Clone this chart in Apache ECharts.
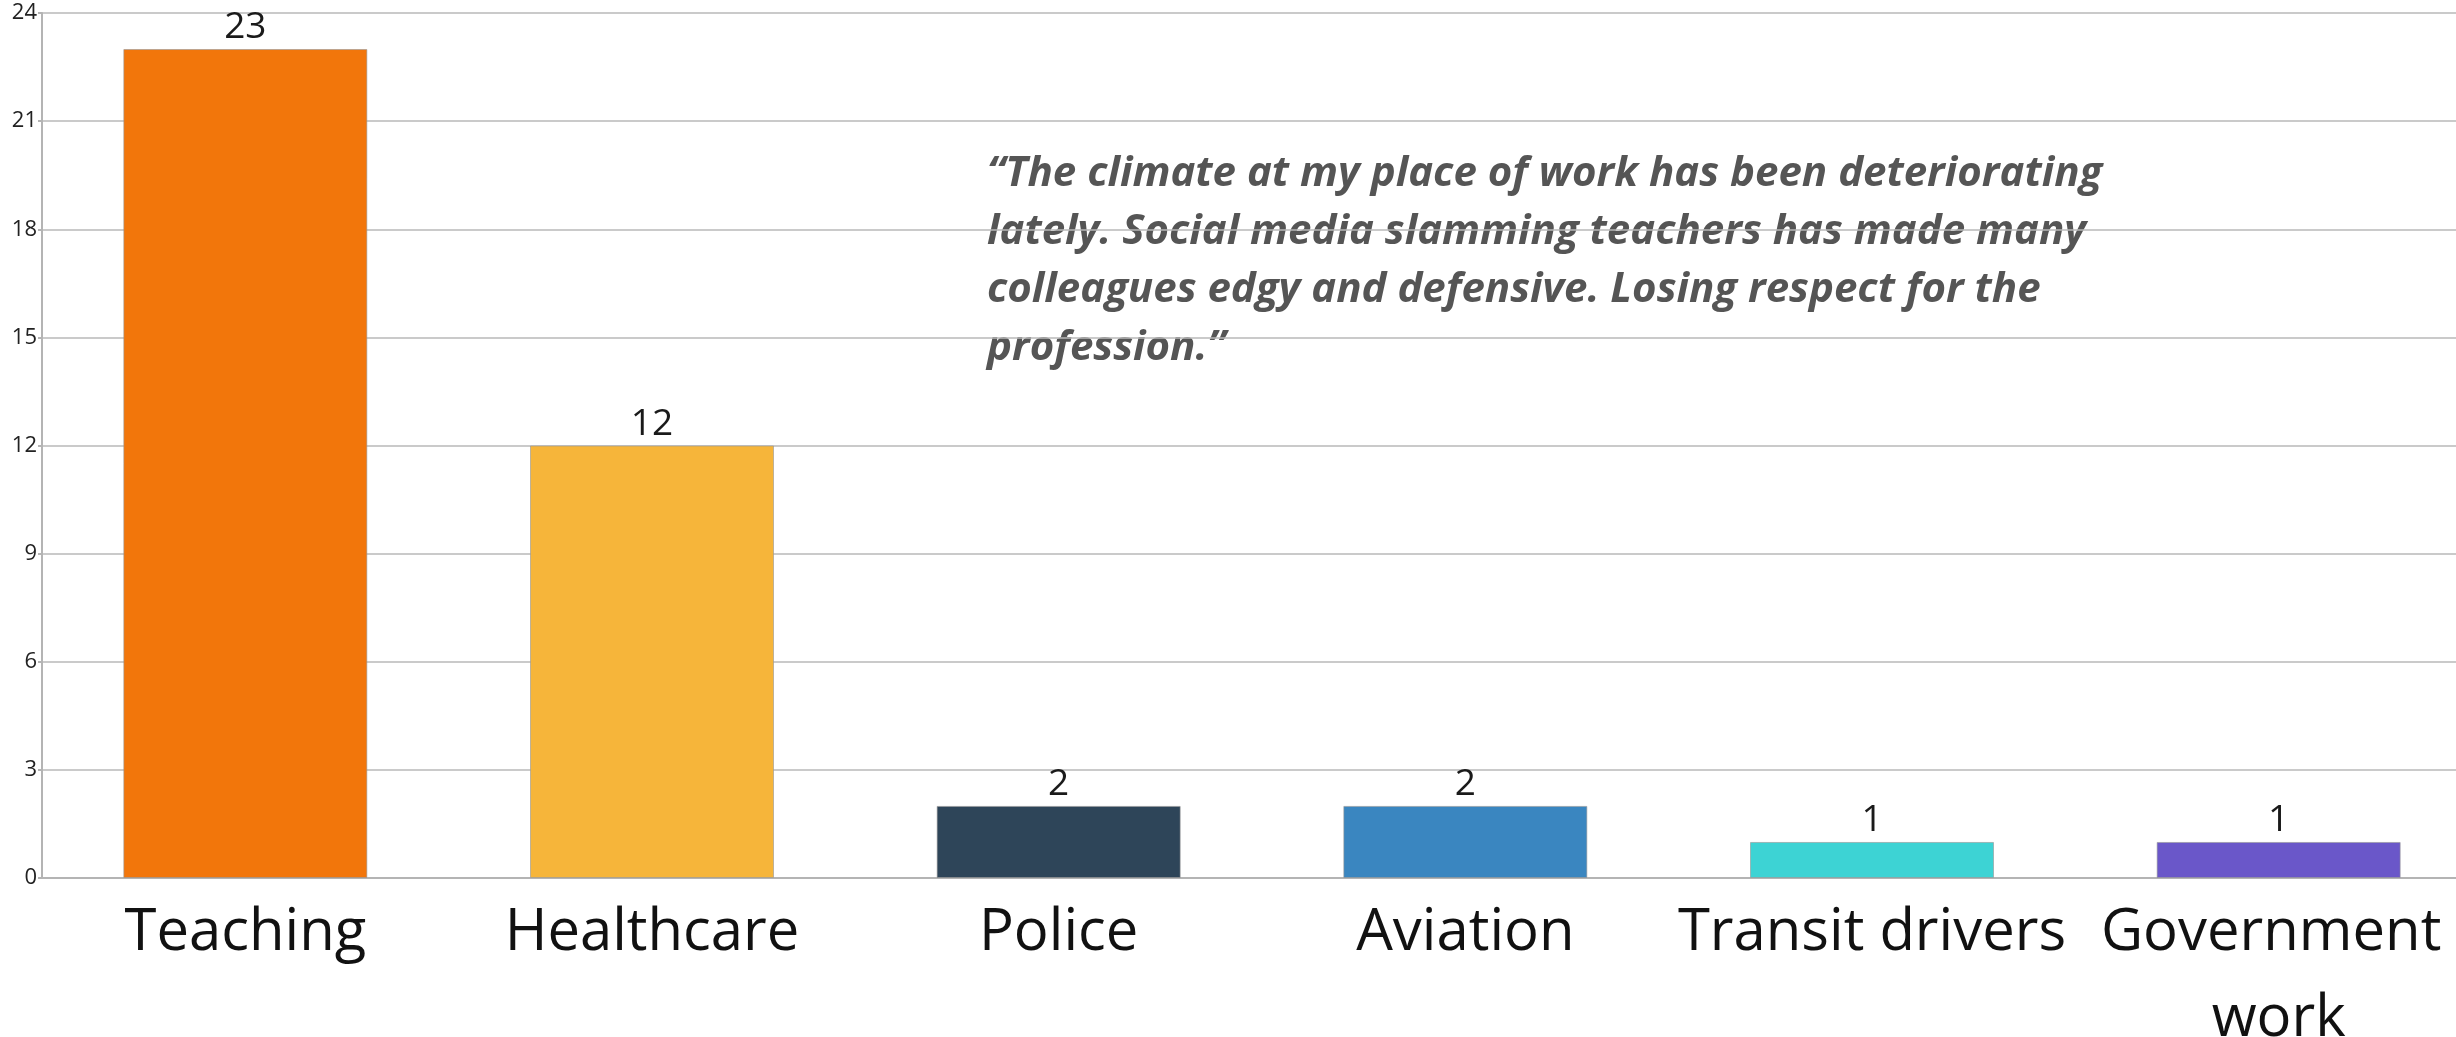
<!DOCTYPE html>
<html>
<head>
<meta charset="utf-8">
<script src="https://cdn.jsdelivr.net/npm/echarts@6/dist/echarts.min.js"></script>
<style>
  html, body { margin: 0; padding: 0; background: #fff; overflow: hidden; }
  #chart { width: 2456px; height: 1037px; }
</style>
</head>
<body>
<div id="chart"></div>
<script>
const categories = ['Teaching', 'Healthcare', 'Police', 'Aviation', 'Transit drivers', 'Government work']
const counts = [23, 12, 2, 2, 1, 1]
const barColors = ['#F2760B', '#F6B53A', '#2E4559', '#3A86C0', '#3DD3D4', '#6A57C9']
const yTicks = { min: 0, max: 24, interval: 3 }
const quote = [
  '\u201cThe climate at my place of work has been deteriorating',
  'lately. Social media slamming teachers has made many',
  'colleagues edgy and defensive. Losing respect for the',
  'profession.\u201d'
]

const font = "'Segoe UI', 'Open Sans', 'Noto Sans', sans-serif"
const chart = echarts.init(document.getElementById('chart'))

chart.setOption({
  animation: false,
  textStyle: { fontFamily: font },
  grid: { left: 42, top: 13, width: 2440, height: 865, containLabel: false, outerBoundsMode: 'none' },
  xAxis: {
    type: 'category',
    data: categories,
    axisLine: { lineStyle: { color: '#b4b4b4', width: 2 } },
    axisTick: { show: false },
    axisLabel: {
      color: '#111',
      fontSize: 58,
      fontFamily: font,
      margin: 12,
      lineHeight: 86,
      width: 440,
      overflow: 'break',
      interval: 0
    }
  },
  yAxis: {
    type: 'value',
    min: yTicks.min,
    max: yTicks.max,
    interval: yTicks.interval,
    axisLine: { show: true, lineStyle: { color: '#b4b4b4', width: 2 } },
    axisTick: { show: true, length: 4, lineStyle: { color: '#b4b4b4', width: 2 } },
    axisLabel: { color: '#222', fontSize: 22, fontFamily: font, margin: 5 },
    splitLine: { lineStyle: { color: '#b8b8b8', width: 1.5 } }
  },
  series: [{
    type: 'bar',
    barWidth: '60%',
    data: counts.map((v, i) => ({
      value: v,
      itemStyle: { color: barColors[i], borderColor: 'rgba(150,150,150,0.6)', borderWidth: 1 }
    })),
    label: { show: true, position: 'top', distance: 3, color: '#1a1a1a', fontSize: 37, fontFamily: font }
  }],
  graphic: [{
    type: 'text',
    left: 987,
    top: 145,
    style: {
      text: quote.join('\n'),
      fill: '#555',
      fontSize: 42,
      fontWeight: 'bold',
      fontStyle: 'italic',
      fontFamily: font,
      lineHeight: 58
    }
  }]
})
</script>
</body>
</html>
